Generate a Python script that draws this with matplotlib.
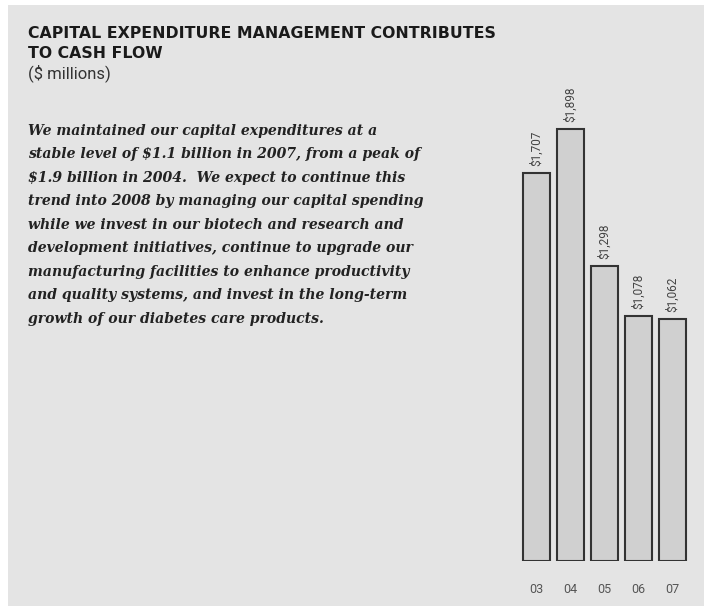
import matplotlib
matplotlib.use("Agg")
import matplotlib.pyplot as plt
from matplotlib.patches import Rectangle

years = ["03", "04", "05", "06", "07"]
capex = [1707, 1898, 1298, 1078, 1062]
value_labels = ["$1,707", "$1,898", "$1,298", "$1,078", "$1,062"]

title_lines = "CAPITAL EXPENDITURE MANAGEMENT CONTRIBUTES\nTO CASH FLOW"
subtitle = "($ millions)"
body = ("We maintained our capital expenditures at a\n"
        "stable level of $1.1 billion in 2007, from a peak of\n"
        "$1.9 billion in 2004.  We expect to continue this\n"
        "trend into 2008 by managing our capital spending\n"
        "while we invest in our biotech and research and\n"
        "development initiatives, continue to upgrade our\n"
        "manufacturing facilities to enhance productivity\n"
        "and quality systems, and invest in the long-term\n"
        "growth of our diabetes care products.")

W, H = 704, 606
fig = plt.figure(figsize=(W / 100, H / 100), dpi=100)
fig.patch.set_facecolor("white")
bg = "#e4e4e4"
fig.patches.append(Rectangle((8 / W, 0), 1 - 8 / W, (H - 5) / H,
                             transform=fig.transFigure, facecolor=bg,
                             edgecolor="none", zorder=-10))

fig.text(28 / W, 1 - 26 / H, title_lines, fontsize=11.3, fontweight="bold",
         family="DejaVu Sans", color="#1a1a1a", va="top", ha="left",
         linespacing=1.38)
fig.text(28 / W, 1 - 64 / H, subtitle, fontsize=12, family="Roboto",
         color="#333333", va="top", ha="left")
fig.text(28 / W, 1 - 124 / H, body, fontsize=10.1, family="DejaVu Serif",
         style="italic", fontweight="bold", color="#222222", va="top",
         ha="left", linespacing=1.86)

ax_left, ax_right = 519.5, 689.5
ax_bottom, ax_top = 561, 106
ax = fig.add_axes([ax_left / W, (H - ax_bottom) / H,
                   (ax_right - ax_left) / W, (ax_bottom - ax_top) / H])
ax.set_facecolor("none")
x = list(range(len(years)))
ax.bar(x, capex, width=0.77, color="#d0d0d0", edgecolor="#333333",
       linewidth=1.5)
ax.set_xlim(-0.5, len(years) - 0.5)
ax.set_ylim(0, 2000)
for xi, v, lab in zip(x, capex, value_labels):
    ax.annotate(lab, (xi, v), xytext=(0, 5), textcoords="offset points",
                rotation=90, ha="center", va="bottom", fontsize=8.5,
                family="Roboto", color="#444444")
ax.set_xticks(x)
ax.set_xticklabels(years, fontsize=9, family="Roboto", color="#555555")
ax.tick_params(axis="x", length=0, pad=16)
ax.set_yticks([])
for s in ax.spines.values():
    s.set_visible(False)

fig.savefig("out.png", dpi=100)
